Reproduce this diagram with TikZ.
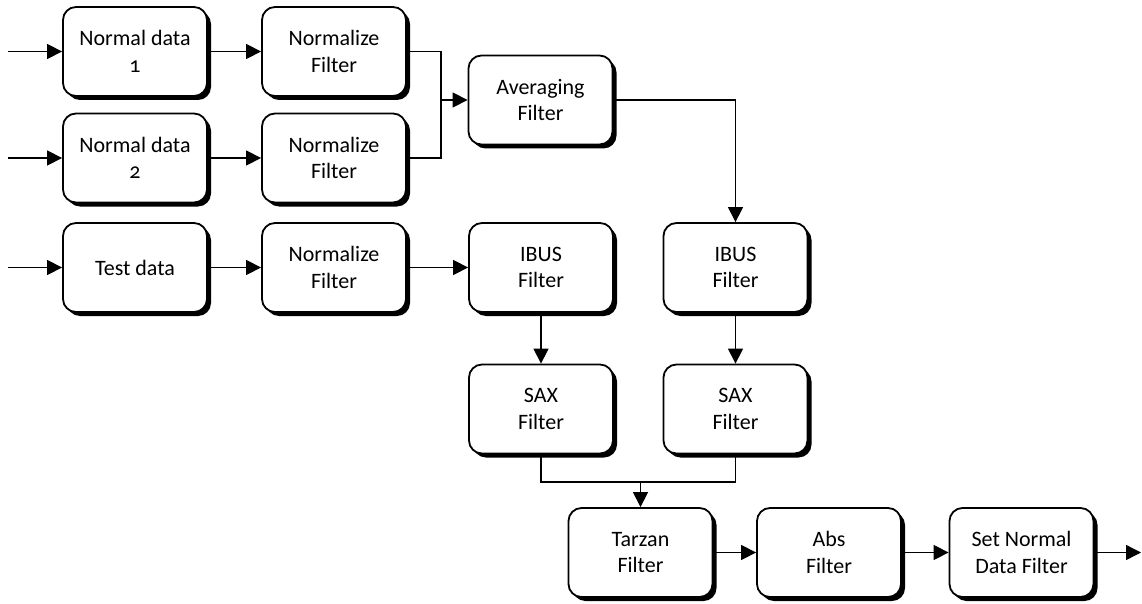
\documentclass[tikz,border=0pt]{standalone}
\usepackage{fontspec}
\setmainfont{Carlito}[Numbers=OldStyle]
\usetikzlibrary{arrows.meta,shadows}
\begin{document}
\begin{tikzpicture}[x=1pt,y=-1pt,
  block/.style={draw=black,line width=1.8pt,fill=white,rounded corners=13pt,
    minimum width=144pt,minimum height=89pt,align=center,inner sep=2pt,
    font=\fontsize{22}{26.5}\selectfont,
    drop shadow={shadow xshift=4pt,shadow yshift=-4pt,opacity=1,fill=black}},
  link/.style={line width=1.3pt,draw=black},
  arr/.style={link,-{Triangle[length=15pt,width=15pt]}}]
\useasboundingbox (0,0) rectangle (1142,604);

% inputs and first filters
\node[block] (nd1) at (135,51.5) {Normal data\\1};
\node[block] (nf1) at (334,51.5) {Normalize\\Filter};
\node[block] (nd2) at (135,158) {Normal data\\2};
\node[block] (nf2) at (334,158) {Normalize\\Filter};
\node[block] (avg) at (540.5,100) {Averaging\\Filter};
\node[block] (td) at (135,267.5) {Test data};
\node[block] (nf3) at (334,267.5) {Normalize\\Filter};
\node[block] (ib1) at (541,267.5) {IBUS\\Filter};
\node[block] (ib2) at (735.5,267.5) {IBUS\\Filter};
\node[block] (sx1) at (541,409) {SAX\\Filter};
\node[block] (sx2) at (735.5,409) {SAX\\Filter};
\node[block] (tz) at (640.5,552.5) {Tarzan\\Filter};
\node[block] (ab) at (829,552.5) {Abs\\Filter};
\node[block] (sn) at (1021.5,552.5) {Set Normal\\Data Filter};

% free ends and junctions
\coordinate (in1) at (8,51.5);
\coordinate (in2) at (8,158);
\coordinate (in3) at (8,267.5);
\coordinate (out) at (1141,552.5);
\coordinate (mg) at (441,100);
\coordinate (jn) at (640.5,482);

% connectors
\draw[arr] (in1) -- (nd1);
\draw[arr] (in2) -- (nd2);
\draw[arr] (in3) -- (td);
\draw[arr] (nd1) -- (nf1);
\draw[arr] (nd2) -- (nf2);
\draw[arr] (td) -- (nf3);
\draw[link] (nf1.east) -| (mg) |- (nf2.east);
\draw[arr] (mg) -- (avg.west);
\draw[arr] (avg.east) -| (ib2.north);
\draw[arr] (nf3) -- (ib1);
\draw[arr] (ib1) -- (sx1);
\draw[arr] (ib2) -- (sx2);
\draw[link] (sx1.south) |- (jn) -| (sx2.south);
\draw[arr] (jn) -- (tz.north);
\draw[arr] (tz) -- (ab);
\draw[arr] (ab) -- (sn);
\draw[arr] (sn) -- (out);
\end{tikzpicture}
\end{document}
